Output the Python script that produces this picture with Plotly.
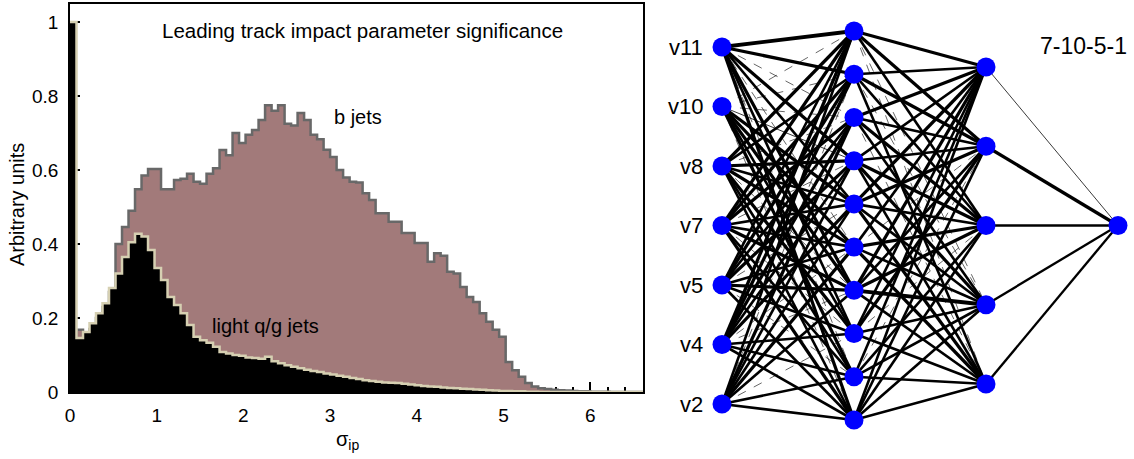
import numpy as np
import plotly.graph_objects as go

# histogram: leading track impact parameter significance, bins of 0.075
BIN_WIDTH = 0.075
b_jets = [
    0.10, 0.168, 0.155, 0.17, 0.20, 0.23, 0.27, 0.40, 0.446, 0.49,
    0.548, 0.585, 0.603, 0.603, 0.548, 0.548, 0.573, 0.576, 0.59, 0.568,
    0.563, 0.59, 0.605, 0.654, 0.64, 0.70, 0.673, 0.695, 0.708, 0.735,
    0.775, 0.76, 0.775, 0.725, 0.72, 0.754, 0.735, 0.695, 0.683, 0.655,
    0.635, 0.60, 0.58, 0.568, 0.566, 0.537, 0.519, 0.483, 0.483, 0.46,
    0.46, 0.43, 0.43, 0.403, 0.403, 0.352, 0.375, 0.368, 0.325, 0.32,
    0.284, 0.257, 0.243, 0.213, 0.19, 0.168, 0.149, 0.081, 0.059, 0.041,
    0.024, 0.015, 0.010, 0.008, 0.006, 0.005, 0.004, 0.003, 0.002, 0.002,
    0.001, 0.001, 0.001, 0.0, 0.0, 0.0, 0.0, 0.0, 0.0,
]
light_jets = [
    1.0, 0.146, 0.162, 0.186, 0.213, 0.24, 0.281, 0.32, 0.365, 0.405,
    0.428, 0.42, 0.384, 0.335, 0.303, 0.257, 0.235, 0.213, 0.181, 0.149,
    0.14, 0.133, 0.122, 0.108, 0.104, 0.10, 0.098, 0.093, 0.092, 0.09,
    0.095, 0.083, 0.078, 0.072, 0.068, 0.064, 0.06, 0.057, 0.054, 0.05,
    0.047, 0.044, 0.041, 0.038, 0.035, 0.032, 0.03, 0.028, 0.026, 0.025,
    0.024, 0.022, 0.02, 0.018, 0.016, 0.015, 0.014, 0.012, 0.011, 0.01,
    0.009, 0.008, 0.007, 0.006, 0.005, 0.004, 0.003, 0.003, 0.002, 0.002,
    0.001, 0.001, 0.0, 0.0, 0.0, 0.0, 0.0, 0.0, 0.0, 0.0,
    0.0, 0.0, 0.0, 0.0, 0.0, 0.0, 0.0, 0.0, 0.0,
]

# network 7-10-5-1, line widths
input_labels = ["v11", "v10", "v8", "v7", "v5", "v4", "v2"]
layer_sizes = [7, 10, 5, 1]
w_in_h1 = [
    [3.0, 2.5, 0.4, 2.5, 2.0, 0.5, 2.5, 2.0, 0.4, 2.5],
    [0.3, 0.5, 0.4, 0.6, 2.5, 2.5, 2.5, 2.0, 2.5, 0.5],
    [2.5, 2.0, 0.5, 2.5, 2.0, 2.5, 0.5, 2.5, 2.0, 2.0],
    [2.5, 2.5, 2.5, 0.5, 2.0, 2.0, 2.5, 0.5, 2.0, 2.5],
    [2.0, 2.5, 2.0, 2.5, 0.5, 2.0, 2.5, 2.0, 0.4, 2.0],
    [2.5, 2.5, 2.5, 2.0, 2.5, 0.4, 0.5, 2.0, 2.0, 2.0],
    [2.0, 0.4, 2.5, 2.0, 2.0, 2.5, 2.0, 0.5, 2.0, 2.0],
]
w_h1_h2 = [
    [2.5, 2.5, 2.0, 0.4, 0.4],
    [2.0, 2.5, 2.0, 0.5, 2.0],
    [2.5, 2.0, 2.5, 2.0, 0.4],
    [2.0, 2.0, 2.5, 2.5, 2.0],
    [2.5, 2.5, 2.0, 2.0, 2.5],
    [2.0, 0.5, 2.5, 2.0, 2.5],
    [2.5, 2.0, 2.5, 3.0, 2.0],
    [2.0, 2.5, 0.4, 2.0, 2.0],
    [2.0, 0.4, 2.0, 2.0, 2.0],
    [2.0, 2.0, 2.0, 2.0, 1.8],
]
w_h2_out = [[0.6], [2.5], [1.8], [1.8], [1.8]]

FONT = "Liberation Sans, Arial, sans-serif"

fig = go.Figure()

# --- left panel: step histograms ---
edges = np.arange(len(b_jets) + 1) * BIN_WIDTH
fig.add_trace(go.Scatter(
    x=edges, y=b_jets + [b_jets[-1]], mode="lines", line_shape="hv",
    fill="tozeroy", fillcolor="#a27a7a",
    line=dict(color="#686868", width=2.5),
    hoverinfo="skip", showlegend=False,
))
fig.add_trace(go.Scatter(
    x=edges, y=light_jets + [light_jets[-1]], mode="lines", line_shape="hv",
    fill="tozeroy", fillcolor="#000000",
    line=dict(color="#d6d0b2", width=2.5),
    hoverinfo="skip", showlegend=False,
))

# --- right panel: network ---
layer_spans = [357, 389, 317, 0]
node_y = [np.linspace(s / 2, -s / 2, n) for s, n in zip(layer_spans, layer_sizes)]
weights = [w_in_h1, w_h1_h2, w_h2_out]

for li, wm in enumerate(weights):
    for a, row in enumerate(wm):
        for b, w in enumerate(row):
            thin = w < 0.6
            fig.add_trace(go.Scatter(
                x=[li, li + 1], y=[node_y[li][a], node_y[li + 1][b]],
                mode="lines",
                line=dict(color="black", width=0.6 if thin else w * 1.3,
                          dash="dash" if thin else "solid"),
                xaxis="x2", yaxis="y2", hoverinfo="skip", showlegend=False,
            ))

for li, ys in enumerate(node_y):
    fig.add_trace(go.Scatter(
        x=[li] * len(ys), y=ys, mode="markers",
        marker=dict(color="#0000ff", size=19, line=dict(width=0)),
        xaxis="x2", yaxis="y2", hoverinfo="skip", showlegend=False,
    ))

annotations = [
    dict(text="Leading track impact parameter significance", x=3.37, y=0.976,
         xref="x", yref="y", showarrow=False, font=dict(size=20.5)),
    dict(text="b jets", x=3.32, y=0.743, xref="x", yref="y",
         showarrow=False, font=dict(size=20)),
    dict(text="light q/g jets", x=2.26, y=0.178, xref="x", yref="y",
         showarrow=False, font=dict(size=20)),
    dict(text="Arbitrary units", x=17 / 1134, y=(459 - 205) / 459,
         xref="paper", yref="paper", xanchor="center", yanchor="middle",
         textangle=-90, showarrow=False, font=dict(size=20)),
    dict(text="σ<sub>ip</sub>", x=347 / 1134, y=(459 - 440) / 459,
         xref="paper", yref="paper", xanchor="center", yanchor="middle",
         showarrow=False, font=dict(size=20)),
    dict(text="7-10-5-1", x=2.74, y=180, xref="x2", yref="y2",
         xanchor="center", yanchor="middle",
         showarrow=False, font=dict(size=23)),
]
for lab, yv in zip(input_labels, node_y[0]):
    annotations.append(dict(
        text=lab, x=-0.13, y=yv, xref="x2", yref="y2", xanchor="right",
        yanchor="middle", showarrow=False, font=dict(size=22),
    ))

fig.update_layout(
    width=1134, height=459, autosize=False,
    margin=dict(l=0, r=0, t=0, b=0, pad=0, autoexpand=False),
    paper_bgcolor="white", plot_bgcolor="white",
    font=dict(family=FONT, color="black", size=19),
    annotations=annotations,
    xaxis=dict(
        domain=[70 / 1134, 643 / 1134], range=[0, 6.609],
        showgrid=False, zeroline=False, automargin=False,
        showline=True, mirror=True, linecolor="black", linewidth=1.5,
        ticks="inside", ticklen=10, tickwidth=1.5, tickcolor="black",
        dtick=1, tick0=0, ticklabelstandoff=5,
        minor=dict(ticks="inside", ticklen=5, dtick=0.2, tickcolor="black"),
        layer="below traces", tickfont=dict(size=19),
    ),
    yaxis=dict(
        domain=[(459 - 392) / 459, (459 - 4) / 459], range=[0, 1.0486],
        showgrid=False, zeroline=False, automargin=False,
        showline=True, mirror=True, linecolor="black", linewidth=1.5,
        ticks="inside", ticklen=10, tickwidth=1.5, tickcolor="black",
        dtick=0.2, tick0=0, ticklabelstandoff=6,
        minor=dict(ticks="inside", ticklen=3, dtick=0.05, tickcolor="black"),
        layer="below traces", tickfont=dict(size=19),
    ),
    xaxis2=dict(
        domain=[650 / 1134, 1.0], range=[-72 / 132, 412 / 132],
        visible=False, anchor="y2", automargin=False,
    ),
    yaxis2=dict(
        domain=[0, 1], range=[-233.5, 225.5], visible=False, anchor="x2",
        automargin=False,
    ),
)

# drop the page's default body margin so the figure sits at the window origin
fig.write_html(
    "out.html",
    config={"displayModeBar": False},
    post_script="document.body.style.margin='0';"
                "document.body.style.overflow='hidden';",
)
